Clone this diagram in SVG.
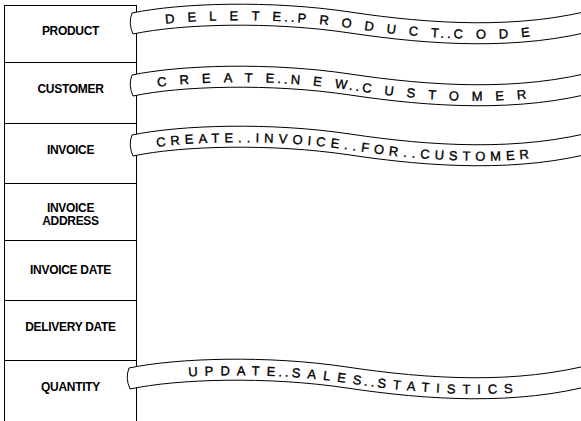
<svg xmlns="http://www.w3.org/2000/svg" xmlns:xlink="http://www.w3.org/1999/xlink" width="581" height="421" viewBox="0 0 581 421">
<style>
.cell{fill:#fff;stroke:#000;stroke-width:1}
.lbl{font-family:"Liberation Sans",Arial,sans-serif;font-weight:bold;font-size:12px;letter-spacing:-0.3px;text-anchor:middle;fill:#000}
.ban{fill:#fff;stroke:#000;stroke-width:1}
.bt{font-family:"Liberation Sans",Arial,sans-serif;font-size:13px;fill:#000;stroke:#000;stroke-width:0.35}
.d{letter-spacing:3px}
</style>
<defs>
<path id="banner" d="M132,13 C180,3 270,0 350,12 S520,30 600,8 L600,29 C520,51 430,45 350,33 C270,21 180,24 133,34 Q128,23 132,13 Z"/>
<path id="tp" d="M132,29 C180,19 270,16 350,28 S520,46 600,24"/>
</defs>
<rect x="0" y="0" width="581" height="421" fill="#fff"/>
<g id="product"><rect class="cell" x="4.5" y="5.5" width="132" height="57"/><text class="lbl" x="70.5" y="34.5">PRODUCT</text></g>
<g id="customer"><rect class="cell" x="4.5" y="62.5" width="132" height="61"/><text class="lbl" x="70.5" y="93">CUSTOMER</text></g>
<g id="invoice"><rect class="cell" x="4.5" y="123.5" width="132" height="60"/><text class="lbl" x="70.5" y="153.5">INVOICE</text></g>
<g id="invoice-address"><rect class="cell" x="4.5" y="183.5" width="132" height="57"/><text class="lbl" x="70.5" y="212">INVOICE</text><text class="lbl" x="70.5" y="225">ADDRESS</text></g>
<g id="invoice-date"><rect class="cell" x="4.5" y="240.5" width="132" height="60"/><text class="lbl" x="70.5" y="273.5">INVOICE DATE</text></g>
<g id="delivery-date"><rect class="cell" x="4.5" y="300.5" width="132" height="60"/><text class="lbl" x="70.5" y="331">DELIVERY DATE</text></g>
<g id="quantity"><rect class="cell" x="4.5" y="360.5" width="132" height="70"/><text class="lbl" x="70.5" y="390.5">QUANTITY</text></g>
<g id="connectors">
<g id="delete-product-code">
<use href="#banner" class="ban"/>
<text class="bt" letter-spacing="13"><textPath href="#tp" startOffset="34">DELET<tspan class="d">E..</tspan>PRODUC<tspan class="d">T..</tspan>CODE</textPath></text>
</g>
<g id="create-new-customer" transform="translate(0,62)">
<use href="#banner" class="ban"/>
<text class="bt" letter-spacing="13"><textPath href="#tp" startOffset="26">CREAT<tspan class="d">E..</tspan>NE<tspan class="d">W..</tspan>CUSTOMER</textPath></text>
</g>
<g id="create-invoice-for-customer" transform="translate(0,122)">
<use href="#banner" class="ban"/>
<text class="bt" letter-spacing="5"><textPath href="#tp" startOffset="25">CREATE..INVOICE..FOR..CUSTOMER</textPath></text>
</g>
<g id="update-sales-statistics" transform="translate(-3,355)">
<use href="#banner" class="ban"/>
<text class="bt" letter-spacing="7"><textPath href="#tp" startOffset="60">UPDAT<tspan class="d">E..</tspan>SALE<tspan class="d">S..</tspan>STATISTICS</textPath></text>
</g>
</g>
</svg>
